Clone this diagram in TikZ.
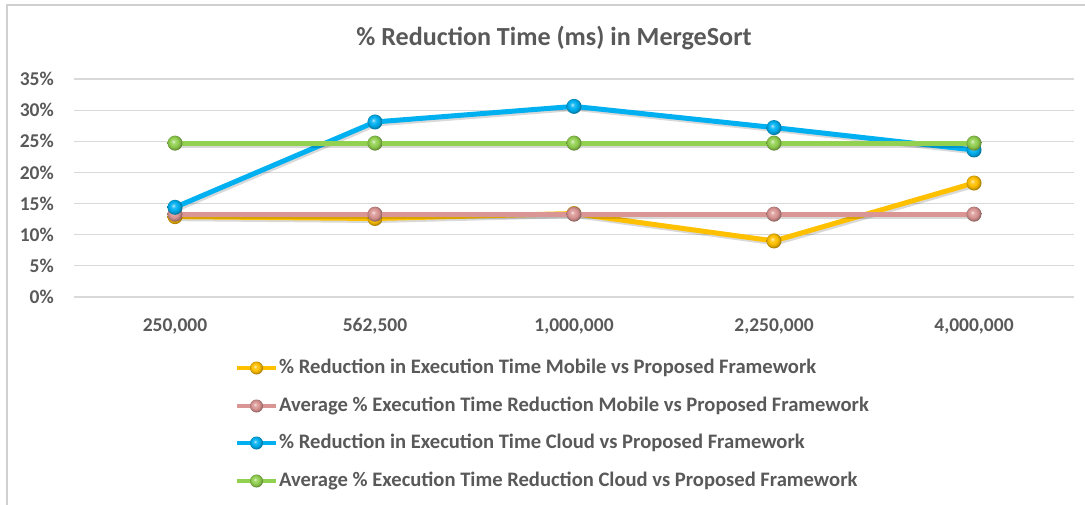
\documentclass[tikz,border=0pt]{standalone}
\usepackage{fontspec}
\setmainfont{Carlito}
\usetikzlibrary{calc}
\definecolor{txt}{HTML}{595959}
\definecolor{grid}{HTML}{D9D9D9}
\definecolor{frame}{HTML}{D0D0D0}
\definecolor{cy}{HTML}{FFC000}
\definecolor{cp}{HTML}{DA9694}
\definecolor{cb}{HTML}{00B0F0}
\definecolor{cg}{HTML}{92D050}
\newcommand\mkballshade[1]{%
  \pgfdeclareradialshading{myball#1}{\pgfpoint{-6bp}{6bp}}{%
    color(0bp)=(#1!25!white); color(7bp)=(#1!85!white); color(14bp)=(#1);
    color(21bp)=(#1!85!black); color(25bp)=(#1!65!black); color(50bp)=(#1!65!black)}}
\mkballshade{cy}\mkballshade{cp}\mkballshade{cb}\mkballshade{cg}
\tikzset{
  gridline/.style={draw=grid, line width=1.2pt},
  ylab/.style={anchor=east, text=txt, font=\bfseries\fontsize{19.5}{22}\selectfont, inner sep=0},
  xlab/.style={anchor=center, text=txt, font=\bfseries\fontsize{19.5}{22}\selectfont, inner sep=0},
  leglab/.style={anchor=west, text=txt, font=\bfseries\fontsize{20.6}{24}\selectfont, inner sep=0},
  series/.style={line width=5pt, line join=round, line cap=round},
  shadowline/.style={line width=5pt, line join=round, line cap=round, draw=black, opacity=0.15},
  legline/.style={line width=3.5pt},
  ballmark/.style={circle, inner sep=0, minimum size=15pt, shading=myball#1},
}
\begin{document}
\begin{tikzpicture}[x=1pt,y=-1pt]
\useasboundingbox (0,0) rectangle (1085,505);
\fill[white] (0,0) rectangle (1085,505);
% frame
\draw[frame, line width=1.5pt] (7,505) -- (7,5) -- (1085,5);
% title
\node[text=txt, font=\bfseries\fontsize{26.1}{30}\selectfont, inner sep=0] (title) at (554,38) {\% Reduction Time (ms) in MergeSort};
% gridlines and y labels
\foreach \v/\lab in {0/0\%,5/5\%,10/10\%,15/15\%,20/20\%,25/25\%,30/30\%,35/35\%}{
  \coordinate (gl\v) at (74,{297-\v*6.229});
  \coordinate (gr\v) at (1074,{297-\v*6.229});
  \draw[gridline] (gl\v) -- (gr\v);
  \node[ylab] (yl\v) at (54,{297-\v*6.229}) {\lab};
}
% x labels
\foreach \i/\x/\lab in {1/175/{250,000},2/375/{562,500},3/574/{1,000,000},4/774/{2,250,000},5/974/{4,000,000}}{
  \node[xlab] (xl\i) at (\x,326) {\lab};
}
% data coordinates
\def\Y#1{{297-#1*6.229}}
\coordinate (y1) at (175,\Y{12.9});
\coordinate (y2) at (375,\Y{12.6});
\coordinate (y3) at (574,\Y{13.4});
\coordinate (y4) at (774,\Y{9.0});
\coordinate (y5) at (974,\Y{18.3});
\foreach \i/\x in {1/175,2/375,3/574,4/774,5/974}{
  \coordinate (p\i) at (\x,\Y{13.3});
  \coordinate (g\i) at (\x,\Y{24.7});
}
\coordinate (b1) at (175,\Y{14.4});
\coordinate (b2) at (375,\Y{28.1});
\coordinate (b3) at (574,\Y{30.6});
\coordinate (b4) at (774,\Y{27.2});
\coordinate (b5) at (974,\Y{23.6});
% series
\foreach \s/\c in {y/cy,p/cp,b/cb,g/cg}{
  \draw[shadowline] ($(\s1)+(1.5,2)$) -- ($(\s2)+(1.5,2)$) -- ($(\s3)+(1.5,2)$) -- ($(\s4)+(1.5,2)$) -- ($(\s5)+(1.5,2)$);
  \draw[series, draw=\c] (\s1) -- (\s2) -- (\s3) -- (\s4) -- (\s5);
  \foreach \i in {1,...,5}{
    \node[ballmark=\c] (m\s\i) at (\s\i) {};
  }
}
% legend
\foreach \s/\c/\yy/\lab in {y/cy/368/{\% Reduction in Execution Time Mobile vs Proposed Framework},
  p/cp/406/{Average \% Execution Time Reduction Mobile vs Proposed Framework},
  b/cb/443/{\% Reduction in Execution Time Cloud vs Proposed Framework},
  g/cg/481/{Average \% Execution Time Reduction Cloud vs Proposed Framework}}{
  \coordinate (la\s) at (237,\yy);
  \coordinate (lb\s) at (276,\yy);
  \draw[legline, draw=\c] (la\s) -- (lb\s);
  \node[ballmark=\c, minimum size=13pt] (lm\s) at (256.5,\yy) {};
  \node[leglab] (lt\s) at (279,\yy) {\lab};
}
\end{tikzpicture}
\end{document}
